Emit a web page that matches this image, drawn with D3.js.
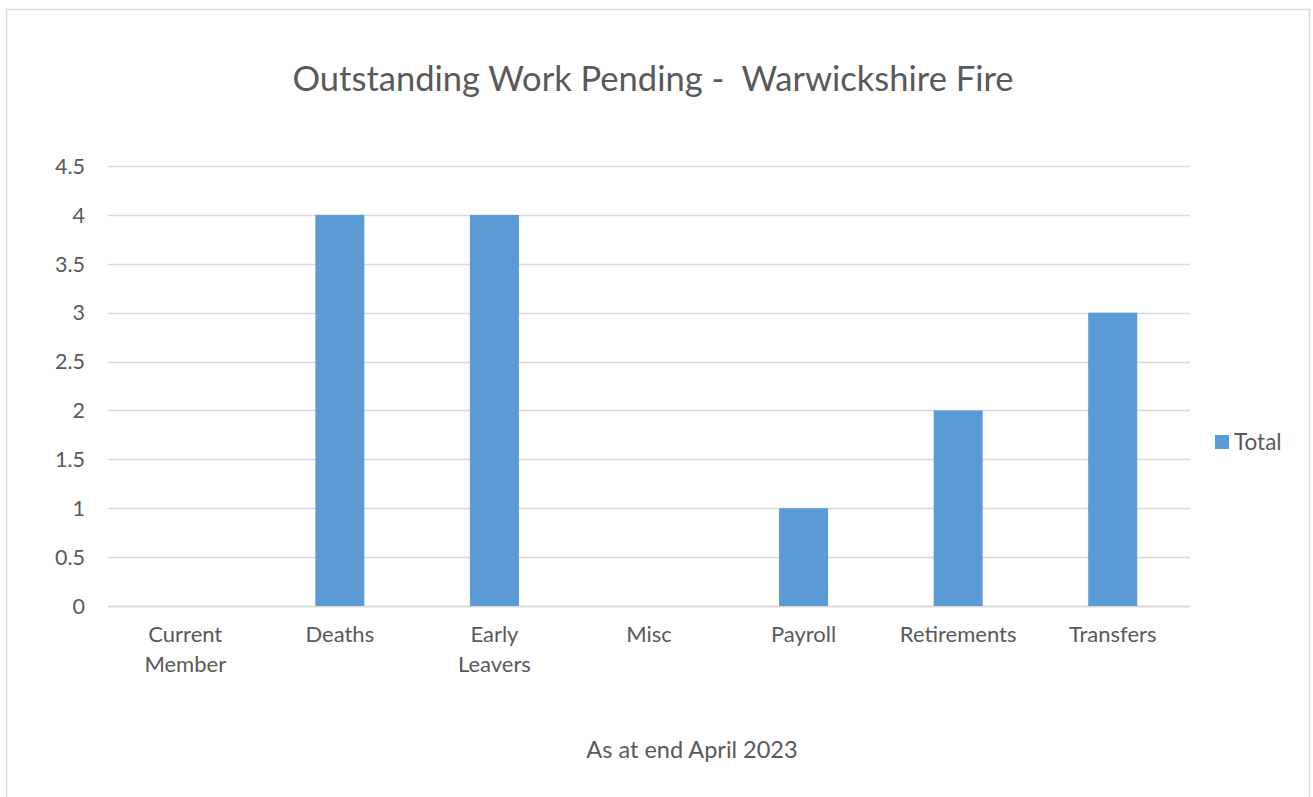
<!DOCTYPE html>
<html lang="en">
<head>
    <meta charset="utf-8">
    <title>Outstanding Work Pending</title>
    <script src="https://d3js.org/d3.v7.min.js"></script>
    <style>
        body { margin: 0; background: #fff; }
        svg text { font-family: Lato, "Open Sans", sans-serif; fill: #595959; white-space: pre; }
    </style>
</head>
<body>
<div id="chart"></div>
<script>
    const categories = [["Current", "Member"], ["Deaths"], ["Early", "Leavers"], ["Misc"], ["Payroll"], ["Retirements"], ["Transfers"]];
    const totals = [0, 4, 4, 0, 1, 2, 3];
    const yTicks = [0, 0.5, 1, 1.5, 2, 2.5, 3, 3.5, 4, 4.5];
    const seriesName = "Total";
    const chartTitle = "Outstanding Work Pending -  Warwickshire Fire";
    const axisTitle = "As at end April 2023";

    const width = 1313, height = 797;
    const margin = {top: 166, right: 123, bottom: 192, left: 108};

    const svg = d3.select("#chart").append("svg")
        .attr("width", width).attr("height", height);

    // outer border of the chart area
    svg.append("rect")
        .attr("x", 6.5).attr("y", 9.5)
        .attr("width", 1303).attr("height", 800)
        .attr("fill", "#fff").attr("stroke", "#d9d9d9").attr("stroke-width", 1.5);

    const x = d3.scaleBand()
        .domain(d3.range(categories.length))
        .range([margin.left, width - margin.right])
        .padding(0);

    const y = d3.scaleLinear()
        .domain([0, 4.5])
        .range([height - margin.bottom + 1, margin.top]);

    // gridlines
    svg.append("g")
        .selectAll("line")
        .data(yTicks)
        .join("line")
        .attr("x1", margin.left).attr("x2", width - margin.right)
        .attr("y1", d => Math.round(y(d)) + 0.5).attr("y2", d => Math.round(y(d)) + 0.5)
        .attr("stroke", "#d9d9d9").attr("stroke-width", d => d === 0 ? 2 : 1.5);

    // y tick labels
    svg.append("g")
        .selectAll("text")
        .data(yTicks)
        .join("text")
        .attr("x", 85)
        .attr("y", d => y(d))
        .attr("dy", "0.36em")
        .attr("text-anchor", "end")
        .attr("font-size", 21.5)
        .text(d => d);

    const barW = x.bandwidth() * 0.317;
    svg.append("g")
        .selectAll("rect")
        .data(totals)
        .join("rect")
        .attr("x", (d, i) => x(i) + (x.bandwidth() - barW) / 2)
        .attr("y", d => y(d))
        .attr("width", barW)
        .attr("height", d => y(0) - y(d))
        .attr("fill", "#5b9bd5");

    // category labels
    const catG = svg.append("g")
        .selectAll("text")
        .data(categories)
        .join("text")
        .attr("text-anchor", "middle")
        .attr("font-size", 22)
        .attr("x", (d, i) => x(i) + x.bandwidth() / 2)
        .attr("y", 642);
    catG.selectAll("tspan")
        .data(d => d)
        .join("tspan")
        .attr("x", function () { return d3.select(this.parentNode).attr("x"); })
        .attr("dy", (d, i) => i === 0 ? 0 : 30)
        .text(d => d);

    // title
    svg.append("text")
        .attr("x", 653).attr("y", 91)
        .attr("text-anchor", "middle")
        .attr("font-size", 34.5)
        .text(chartTitle);

    // x axis title
    svg.append("text")
        .attr("x", 692).attr("y", 758)
        .attr("text-anchor", "middle")
        .attr("font-size", 23.5)
        .text(axisTitle);

    // legend
    svg.append("rect")
        .attr("x", 1215).attr("y", 435)
        .attr("width", 14).attr("height", 14)
        .attr("fill", "#5b9bd5");
    svg.append("text")
        .attr("x", 1234).attr("y", 450)
        .attr("font-size", 22.5)
        .text(seriesName);
</script>
</body>
</html>
